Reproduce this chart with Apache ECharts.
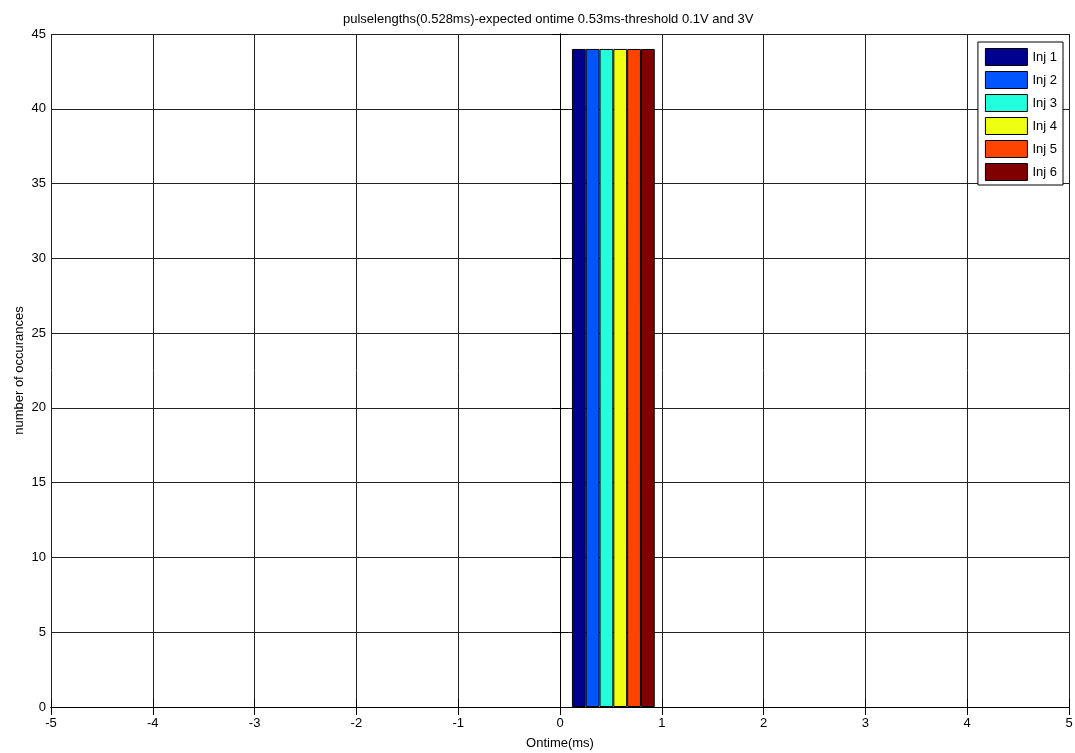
<!DOCTYPE html>
<html><head><meta charset="utf-8">
<script src="https://cdn.jsdelivr.net/npm/echarts@6/dist/echarts.min.js"></script>
<style>html,body{margin:0;padding:0;background:#fff}#c{width:1075px;height:753px}</style>
</head><body><div id="c"></div>
<script>
const seriesNames = ['Inj 1','Inj 2','Inj 3','Inj 4','Inj 5','Inj 6'];
const seriesColors = ['#00008f','#0055ff','#22ffdd','#eeff11','#ff4400','#800000'];
const binCenters = [0.524];
const inj1 = [44];
const inj2 = [44];
const inj3 = [44];
const inj4 = [44];
const inj5 = [44];
const inj6 = [44];
const values = [inj1, inj2, inj3, inj4, inj5, inj6];
const xTicks = [-5,-4,-3,-2,-1,0,1,2,3,4,5];
const yTicks = [0,5,10,15,20,25,30,35,40,45];

const font = 'Liberation Sans, Arial, sans-serif';
const chart = echarts.init(document.getElementById('c'));
const axisCommon = {
  axisLine: {show: true, lineStyle: {color: '#000', width: 1}},
  axisTick: {show: true, inside: true, length: 8, lineStyle: {color: '#000'}},
};
chart.setOption({
  animation: false,
  backgroundColor: '#fff',
  title: {text: 'pulselengths(0.528ms)-expected ontime 0.53ms-threshold 0.1V and 3V',
    left: 338, top: 8,
    textStyle: {fontFamily: font, fontSize: 13, fontWeight: 'normal', color: '#000'}},
  grid: {left: 51, right: 6, top: 34, bottom: 46, containLabel: false, outerBoundsMode: 'none'},
  legend: {
    orient: 'vertical', right: 12, top: 42,
    itemWidth: 42, itemHeight: 17, itemGap: 5,
    padding: [6, 6, 4, 7],
    backgroundColor: '#fff', borderColor: '#000', borderWidth: 1,
    icon: 'rect',
    itemStyle: {borderWidth: 1, borderColor: '#000'},
    textStyle: {fontFamily: font, fontSize: 13, color: '#000', lineHeight: 17},
    data: seriesNames
  },
  xAxis: [{
    type: 'value', min: xTicks[0], max: xTicks[xTicks.length-1], interval: 1,
    name: 'Ontime(ms)', nameLocation: 'middle', nameGap: 30, nameMoveOverlap: false,
    nameTextStyle: {fontFamily: font, fontSize: 13, color: '#000'},
    ...axisCommon,
    axisLabel: {fontFamily: font, fontSize: 13, color: '#000', margin: 10},
    splitLine: {show: true, lineStyle: {color: '#222', width: 1}}
  }, {
    type: 'value', position: 'top', min: xTicks[0], max: xTicks[xTicks.length-1], interval: 1,
    ...axisCommon, axisLabel: {show: false}, splitLine: {show: false}
  }],
  yAxis: [{
    type: 'value', min: yTicks[0], max: yTicks[yTicks.length-1], interval: 5,
    name: 'number of occurances', nameLocation: 'middle', nameGap: 25, nameMoveOverlap: false,
    nameTextStyle: {fontFamily: font, fontSize: 13, color: '#000'},
    ...axisCommon,
    axisLabel: {fontFamily: font, fontSize: 13, color: '#000', margin: 5},
    splitLine: {show: true, lineStyle: {color: '#222', width: 1}}
  }, {
    type: 'value', position: 'right', min: yTicks[0], max: yTicks[yTicks.length-1], interval: 5,
    ...axisCommon, axisLabel: {show: false}, splitLine: {show: false}
  }],
  series: seriesNames.map((n, i) => ({
    name: n, type: 'bar', xAxisIndex: 0, yAxisIndex: 0,
    barWidth: 13.8, barGap: '0%',
    itemStyle: {color: seriesColors[i], borderColor: '#000', borderWidth: 1},
    data: binCenters.map((x, k) => [x, values[i][k]])
  }))
});
</script></body></html>
